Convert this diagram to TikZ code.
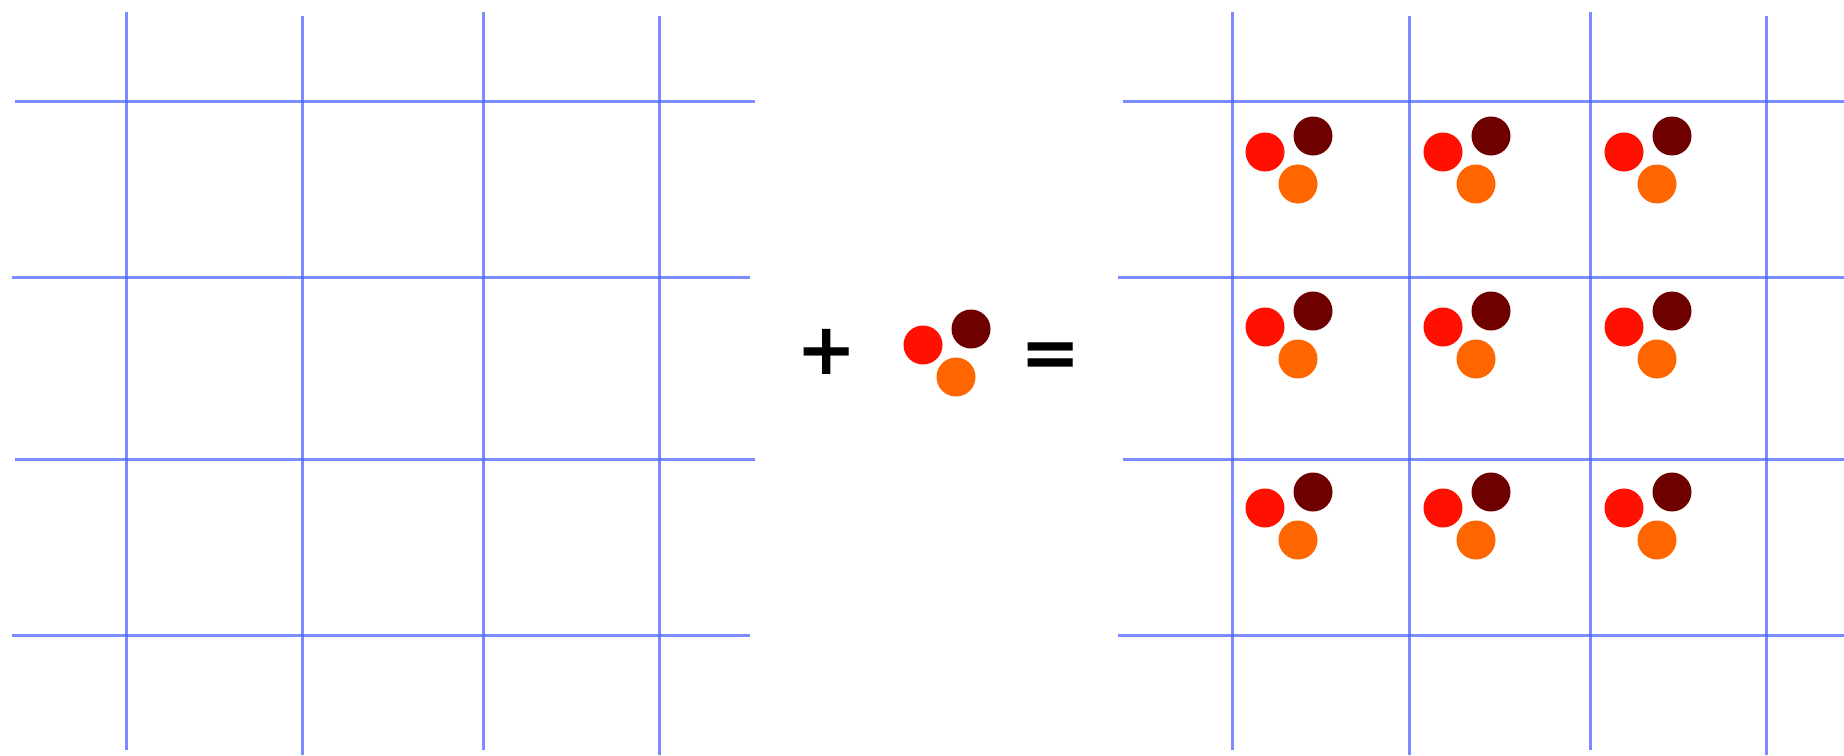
\documentclass[tikz,border=0pt]{standalone}
\usepackage{fontspec}
\newfontfamily\signfont{DejaVu Sans}
\usetikzlibrary{positioning}
\definecolor{gridcolor}{RGB}{80,100,255}
\definecolor{redball}{RGB}{255,16,0}
\definecolor{darkball}{RGB}{110,0,0}
\definecolor{orangeball}{RGB}{255,102,0}
\tikzset{
gridline/.style={
  draw=gridcolor,
  line width=3pt,
  draw opacity=0.75
},
ball/.style={
  circle,
  minimum size=39pt,
  inner sep=0pt
},
signtext/.style={
  font=\signfont\bfseries\fontsize{72}{72}\selectfont,
  text=black,
  inner sep=0pt
}
}
% three balls, red one at (#2,#3)
\newcommand{\ballgroup}[3]{%
  \node[ball, fill=redball] (#1r) at (#2,#3) {};
  \node[ball, fill=darkball] (#1d) at (#2+48,#3-16) {};
  \node[ball, fill=orangeball] (#1o) at (#2+33,#3+32) {};%
}

\begin{document}
\begin{tikzpicture}[x=1pt, y=-1pt]
  \fill[white] (0,0) rectangle (1844,755);
  \useasboundingbox (0,0) rectangle (1844,755);

  % Left grid
  \foreach \x/\top/\bot in {126/12/750, 302/16/755, 483/12/750, 659/16/755}
    \draw[gridline] (\x,\top) -- (\x,\bot);
  \foreach \y/\l/\r in {101/15/755, 277/12/750, 459/15/755, 635/12/750}
    \draw[gridline] (\l,\y) -- (\r,\y);

  % Right grid
  \foreach \x/\top/\bot in {1232/12/750, 1409/16/755, 1590/12/750, 1766/16/755}
    \draw[gridline] (\x,\top) -- (\x,\bot);
  \foreach \y/\l in {101/1123, 277/1118, 459/1123, 635/1118}
    \draw[gridline] (\l,\y) -- (1844,\y);

  % Plus, balls, equals
  \node[signtext] (plus) at (827,352) {+};
  \ballgroup{mid}{923}{345}
  \node[signtext] (equals) at (1051,360) {=};

  % Balls in the right grid
  \foreach \x [count=\i] in {1265, 1443, 1624} {
    \foreach \y [count=\j] in {152, 327, 508} {
      \ballgroup{c\i\j}{\x}{\y}
    }
  }
\end{tikzpicture}
\end{document}
